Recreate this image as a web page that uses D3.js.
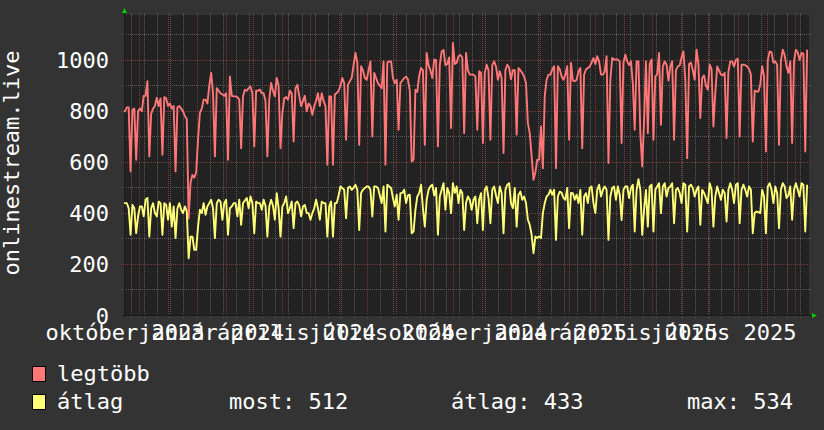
<!DOCTYPE html>
<html><head><meta charset="utf-8">
<script src="https://cdn.jsdelivr.net/npm/d3@7"></script>
<style>html,body{margin:0;padding:0;background:#333333;}svg{display:block;}</style>
</head><body>
<svg id="chart" width="824" height="430"></svg>
<script>
// ---- data ----
const firstSample = "2023-10-14";   // samples every 2 days
const stepDays = 2;
const rangeStart = "2023-10-15";
const rangeEnd = "2025-10-15";
const seriesNames = ["legtöbb", "átlag"];
const legtobb = [
800,799,815,815,564,805,810, 610,800,810,800,860,860,917, 623,790,810,820,853,820,850,
629,855,850,820,830,810,820, 564,815,820,810,800,780,770, 380,520,550,540,560,690,793,
810,845,845,830,900,950,870, 623,890,880,870,865,860,870, 610,936,860,858,858,855,845,
655,858,884,880,890,897,870, 662,880,880,885,870,870,840, 623,845,910,880,858,930,900,
655,793,850,855,845,880,870, 681,890,903,860,820,840,860, 800,830,820,786,820,840,870,
820,870,840,820,590,858,858, 590,865,871,880,900,930,910, 688,904,917,930,980,1028,990,
668,976,960,930,923,960,995, 701,950,930,910,900,890,995, 590,990,995,995,930,910,923,
727,910,920,930,935,925,880, 603,610,884,875,940,969,960, 668,1028,980,960,930,1002,1000,
662,980,1034,1040,980,985,1010, 734,1067,985,990,1015,1020,1010, 714,1028,960,943,943,943,936,
727,956,950,675,950,982,960, 688,980,995,975,923,956,930, 636,960,982,970,925,960,960,
708,969,960,950,935,910,753, 714,623,531,560,610,610,740, 577,860,923,943,943,963,976,
577,976,965,936,923,943,976, 688,989,920,917,923,956,969, 655,943,963,969,975,990,1008,
985,1015,995,943,943,955,1015, 597,923,1008,1002,1002,1002,995, 675,990,1021,995,980,995,910,
727,995,995,714,584,760,995, 714,985,1002,688,936,943,1028, 747,975,995,982,920,975,995,
688,960,975,980,1010,1034,923, 616,985,990,960,923,1041,985, 773,930,940,900,884,982,965,
740,871,975,960,943,940,950, 695,955,995,995,975,1000,1005, 701,982,982,980,975,965,943,
681,880,877,877,904,976,936, 642,1000,1034,1030,990,995,982, 668,995,1041,1020,975,950,995,
675,995,1041,1030,1000,1028,1025, 642,1041];
const atlag = [
440,440,440,420,316,433,420, 322,388,427,427,388,453,460, 309,420,440,401,388,446,440,
316,440,433,375,440,348,427, 303,420,440,414,401,427,407, 224,309,309,257,257,348,414,
401,440,394,427,440,453,420, 303,440,453,446,375,440,453, 316,420,427,440,440,388,453,
355,440,450,460,420,466,440, 322,446,440,440,414,453,430, 309,427,453,430,375,479,420,
309,427,440,466,401,420,446, 342,440,446,430,388,427,433, 401,401,375,401,420,453,420,
375,446,440,440,309,427,446, 309,440,440,470,505,499,492, 381,499,505,492,500,512,492,
335,480,492,499,505,505,492, 388,505,505,499,470,440,505, 329,512,505,499,460,427,473,
375,479,480,492,440,470,473, 322,329,414,466,479,512,420, 348,453,492,505,512,470,499,
316,466,492,518,414,499,480, 401,518,480,505,440,492,480, 335,440,466,453,414,453,466,
361,453,479,335,492,505,460, 361,492,505,470,440,505,480, 322,492,512,518,440,420,499,
348,473,485,453,466,440,375, 355,316,244,309,303,309,303, 401,440,466,473,492,473,492,
296,466,485,480,460,453,499, 342,480,479,453,473,440,492, 316,466,479,440,499,505,440,
401,492,512,466,492,505,492, 296,466,499,505,453,505,473, 374,492,505,505,460,499,512,
329,492,534,492,316,414,492, 348,505,512,329,492,505,518, 401,505,518,466,499,505,518,
361,492,499,480,440,518,512, 329,505,512,499,466,492,505, 355,492,480,460,440,518,492,
348,466,505,480,453,492,480, 368,492,518,492,440,512,518, 361,492,512,492,466,505,492,
322,401,407,405,401,492,466, 322,505,518,492,440,505,480, 342,492,518,505,460,470,505,
375,492,518,492,466,518,512, 329,512];
const yTicks = [0, 200, 400, 600, 800, 1000];
const yMinor = [100, 300, 500, 700, 900, 1100];
const xLabelMonths = ["2023-10-01","2024-01-01","2024-04-01","2024-07-01","2024-10-01","2025-01-01","2025-04-01","2025-07-01"];
const xLabels = ["október 2023","január 2024","április 2024","július 2024","október 2024","január 2025","április 2025","július 2025"];
const legendStats = ["most: 512", "átlag: 433", "max: 534"];
const yTitle = "onlinestream.live";

// ---- drawing ----
const P = {left:124, right:809, top:15, bottom:315.5};
const FONT = "'DejaVu Sans Mono', monospace";
const colors = {bg:"#333333", plot:"#222222", red:"#ff7777", yellow:"#ffff77",
  minor:"#5a5a5a", major:"#7a3a3a", text:"#ffffff", arrow:"#00cc00", axis:"#1b1b1b"};

const parse = d3.utcParse("%Y-%m-%d");
const t0 = parse(firstSample);
const x = d3.scaleUtc().domain([parse(rangeStart), parse(rangeEnd)]).range([P.left, P.right]);
const y = d3.scaleLinear().domain([0, 1176.5]).range([P.bottom, P.top]);
const crisp = v => Math.round(v - 0.5) + 0.5;

const svg = d3.select("#chart");
svg.append("rect").attr("width",824).attr("height",430).attr("fill",colors.bg);
svg.append("rect").attr("x",P.left).attr("y",P.top).attr("width",P.right-P.left)
  .attr("height",P.bottom-P.top).attr("fill",colors.plot);

const grid = svg.append("g").attr("shape-rendering","crispEdges");
// minor vertical lines every 2 weeks from Monday
const weeks = d3.utcMonday.every(1).range(parse("2023-10-23"), parse(rangeEnd)).filter((d,i)=>i%2===0);
const months = d3.utcMonth.range(parse("2023-11-01"), parse(rangeEnd));
weeks.forEach(d => {
  const xx = crisp(x(d));
  grid.append("line").attr("x1",xx).attr("x2",xx).attr("y1",P.top-2).attr("y2",P.bottom+2)
    .attr("stroke",colors.minor).attr("stroke-dasharray","1,1");
});
yMinor.forEach(v => {
  const yy = crisp(y(v));
  grid.append("line").attr("x1",P.left-2).attr("x2",P.right+2).attr("y1",yy).attr("y2",yy)
    .attr("stroke",colors.minor).attr("stroke-dasharray","1,1");
});
months.forEach(d => {
  const xx = crisp(x(d));
  grid.append("line").attr("x1",xx).attr("x2",xx).attr("y1",P.top-2).attr("y2",P.bottom+3)
    .attr("stroke",colors.major).attr("stroke-dasharray","1,1");
});
yTicks.filter(v=>v>0).forEach(v => {
  const yy = crisp(y(v));
  grid.append("line").attr("x1",P.left-3).attr("x2",P.right+2).attr("y1",yy).attr("y2",yy)
    .attr("stroke",colors.major).attr("stroke-dasharray","1,1");
});
// axes
grid.append("line").attr("x1",P.left+0.5).attr("x2",P.left+0.5).attr("y1",P.top-3).attr("y2",P.bottom+1)
  .attr("stroke",colors.axis);
grid.append("line").attr("x1",P.left-2).attr("x2",P.right+4).attr("y1",crisp(P.bottom)).attr("y2",crisp(P.bottom))
  .attr("stroke",colors.axis);
svg.append("path").attr("d",`M${P.left+0.5},${P.top-7} L${P.left+3},${P.top-2} L${P.left-2},${P.top-2} Z`).attr("fill",colors.arrow);
svg.append("path").attr("d",`M${P.right+8},${crisp(P.bottom)} L${P.right+3},${crisp(P.bottom)-2.5} L${P.right+3},${crisp(P.bottom)+2.5} Z`).attr("fill",colors.arrow);

// lines
svg.append("clipPath").attr("id","clip").append("rect")
  .attr("x",P.left).attr("y",P.top-5).attr("width",P.right-P.left).attr("height",P.bottom-P.top+5);
const line = d3.line().x((d,i)=>x(d3.utcDay.offset(t0, i*stepDays))).y(d=>y(d));
const lines = svg.append("g").attr("clip-path","url(#clip)");
lines.append("path").attr("d",line(legtobb)).attr("fill","none").attr("stroke",colors.red).attr("stroke-width",1.9).attr("stroke-linejoin","round");
lines.append("path").attr("d",line(atlag)).attr("fill","none").attr("stroke",colors.yellow).attr("stroke-width",1.9).attr("stroke-linejoin","round");

// y labels
const txt = svg.append("g").attr("fill",colors.text).style("font-family",FONT).style("font-size","22px");
yTicks.forEach(v => {
  txt.append("text").attr("x",109).attr("y",y(v)+8).attr("text-anchor","end").text(d3.format("d")(v));
});
// x labels (centred half a month after the month start)
xLabelMonths.forEach((m,i) => {
  txt.append("text").attr("x",x(d3.utcDay.offset(parse(m),15))).attr("y",340)
    .attr("text-anchor","middle").text(xLabels[i]);
});
// y title
txt.append("text").attr("transform","translate(19,163) rotate(-90)").attr("text-anchor","middle").text(yTitle);

// legend
const legColors = [colors.red, colors.yellow];
seriesNames.forEach((n,i) => {
  const yy = 366 + i*28;
  svg.append("rect").attr("x",32.5).attr("y",yy+0.5).attr("width",13).attr("height",15)
    .attr("fill",legColors[i]).attr("stroke","#000").attr("stroke-width",1);
  txt.append("text").attr("x",57).attr("y",yy+15).text(n);
});
[229, 451, 687].forEach((xx,i) => {
  txt.append("text").attr("x",xx).attr("y",409).text(legendStats[i]);
});
</script>
</body></html>
